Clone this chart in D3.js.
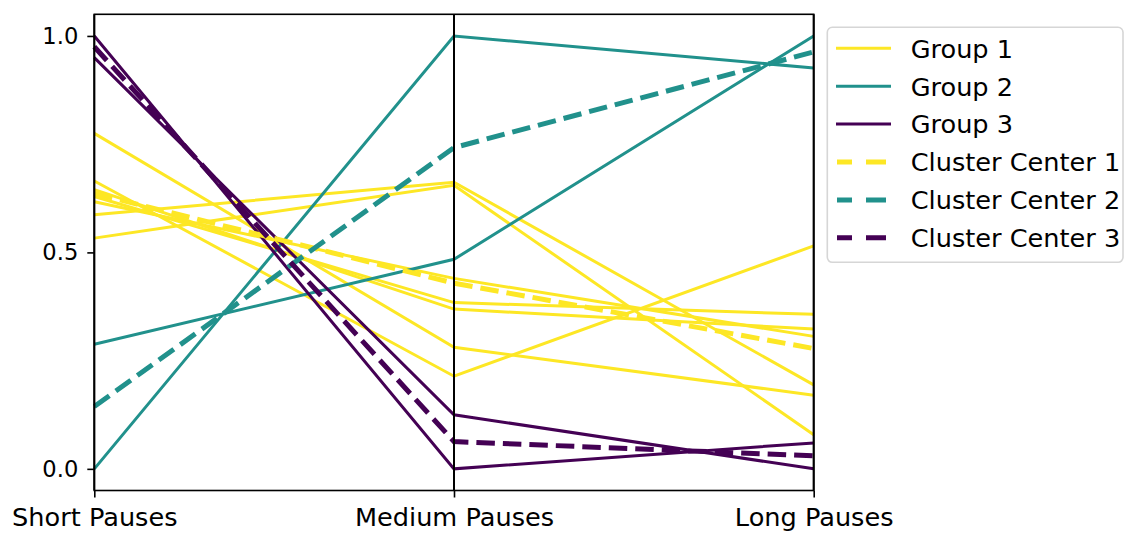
<!DOCTYPE html>
<html>
<head>
<meta charset="utf-8">
<script src="https://cdn.jsdelivr.net/npm/d3@7"></script>
<style>
  html, body { margin: 0; padding: 0; background: #ffffff; }
  svg { display: block; }
  text { font-family: "DejaVu Sans", sans-serif; fill: #000; }
</style>
</head>
<body>
<svg id="chart" width="1125" height="533"></svg>
<script>
// Column names of the parallel-coordinates plot
const dimensions = ["Short Pauses", "Medium Pauses", "Long Pauses"];

// Normalised observations, one row per sample: [short, medium, long]
const group1Rows = [
  [0.533, 0.655, 0.079],
  [0.587, 0.662, 0.194],
  [0.775, 0.281, 0.170],
  [0.665, 0.214, 0.515],
  [0.617, 0.440, 0.306],
  [0.629, 0.384, 0.357],
  [0.645, 0.369, 0.323]
];
const group2Rows = [
  [0.000, 1.000, 0.926],
  [0.288, 0.484, 1.000]
];
const group3Rows = [
  [1.000, 0.000, 0.060],
  [0.950, 0.125, 0.000]
];

// Cluster centres
const center1 = [0.636, 0.429, 0.278];
const center2 = [0.144, 0.742, 0.963];
const center3 = [0.975, 0.063, 0.030];

const groupNames = ["Group 1", "Group 2", "Group 3"];
const centerNames = ["Cluster Center 1", "Cluster Center 2", "Cluster Center 3"];
const yTicks = [0.0, 0.5, 1.0];

const colors = ["#fde725", "#21918c", "#440154"];

const svg = d3.select("#chart");
const plot = { left: 94.3, right: 813.7, top: 14.3, bottom: 490.5 };

const x = d3.scalePoint().domain(dimensions).range([plot.left, plot.right]);
const y = d3.scaleLinear().domain([-0.05, 1.05]).range([plot.bottom, plot.top]);

const line = d3.line()
  .x((v, i) => x(dimensions[i]))
  .y(v => y(v));

const g = svg.append("g");

// Sample lines
[group1Rows, group2Rows, group3Rows].forEach((rows, gi) => {
  g.selectAll(null)
    .data(rows)
    .enter()
    .append("path")
    .attr("d", line)
    .attr("fill", "none")
    .attr("stroke", colors[gi])
    .attr("stroke-width", 3);
});

// Cluster centre lines
[center1, center2, center3].forEach((c, ci) => {
  g.append("path")
    .attr("d", line(c))
    .attr("fill", "none")
    .attr("stroke", colors[ci])
    .attr("stroke-width", 5)
    .attr("stroke-dasharray", "18.5 8");
});

// Vertical axis line at every column
g.selectAll(null)
  .data(dimensions)
  .enter()
  .append("line")
  .attr("x1", d => x(d)).attr("x2", d => x(d))
  .attr("y1", plot.top).attr("y2", plot.bottom)
  .attr("stroke", "#000")
  .attr("stroke-width", 2);

// Axes
const xAxis = svg.append("g")
  .attr("transform", `translate(0,${plot.bottom})`)
  .call(d3.axisBottom(x).tickSize(7).tickPadding(10.3));
xAxis.select(".domain").remove();
xAxis.selectAll("line").attr("stroke", "#000").attr("stroke-width", 1.6);
xAxis.selectAll("text").attr("font-size", 25.6).attr("font-family", "DejaVu Sans").attr("fill", "#000");

const yAxis = svg.append("g")
  .attr("transform", `translate(${plot.left},0)`)
  .call(d3.axisLeft(y).tickValues(yTicks).tickFormat(d3.format(".1f")).tickSize(7).tickPadding(9));
yAxis.select(".domain").remove();
yAxis.selectAll("line").attr("stroke", "#000").attr("stroke-width", 1.6);
yAxis.selectAll("text").attr("font-size", 22.6).attr("font-family", "DejaVu Sans").attr("fill", "#000");

// Frame
svg.append("rect")
  .attr("x", plot.left).attr("y", plot.top)
  .attr("width", plot.right - plot.left).attr("height", plot.bottom - plot.top)
  .attr("fill", "none").attr("stroke", "#000").attr("stroke-width", 1.6);

// Legend
const legend = svg.append("g");
legend.append("rect")
  .attr("x", 827.3).attr("y", 27.3)
  .attr("width", 1123 - 827.3).attr("height", 262.3 - 27.3)
  .attr("rx", 5).attr("ry", 5)
  .attr("fill", "#ffffff").attr("fill-opacity", 0.8)
  .attr("stroke", "#d6d6d6").attr("stroke-width", 1.6);

const entries = groupNames.map((n, i) => ({ name: n, color: colors[i], dashed: false }))
  .concat(centerNames.map((n, i) => ({ name: n, color: colors[i], dashed: true })));

const rowY = i => 48.3 + i * 37.9;

entries.forEach((e, i) => {
  const ly = rowY(i);
  if (e.dashed) {
    legend.append("line")
      .attr("x1", 837).attr("x2", 886)
      .attr("y1", ly).attr("y2", ly)
      .attr("stroke", e.color).attr("stroke-width", 5)
      .attr("stroke-dasharray", "15 14 20 100");
  } else {
    legend.append("line")
      .attr("x1", 836).attr("x2", 891)
      .attr("y1", ly).attr("y2", ly)
      .attr("stroke", e.color).attr("stroke-width", 3);
  }
  legend.append("text")
    .attr("x", 910.7).attr("y", ly + 9.3)
    .attr("font-size", 25.6)
    .text(e.name);
});
</script>
</body>
</html>
